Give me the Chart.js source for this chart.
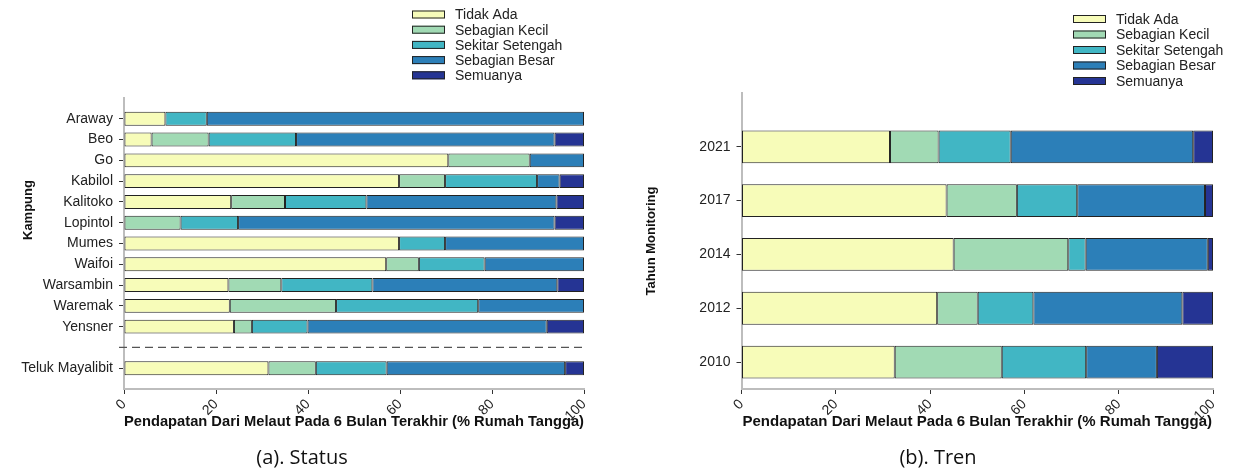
<!DOCTYPE html>
<html>
<head>
<meta charset="utf-8">
<script src="https://cdn.jsdelivr.net/npm/chart.js@4.4.1/dist/chart.umd.min.js"></script>
<style>
  body { margin: 0; background: #fff; width: 1246px; height: 471px; position: relative; overflow: hidden; }
  #chartA { position: absolute; left: 0; top: 0; }
  #chartB { position: absolute; left: 620px; top: 0; }
  .cap { position: absolute; top: 443px; font-family: "Open Sans", sans-serif; font-size: 20px; color: #111; transform: translateX(-50%); white-space: nowrap; }
</style>
</head>
<body>
<canvas id="chartA" width="620" height="471"></canvas>
<canvas id="chartB" width="626" height="471"></canvas>
<div class="cap" style="left:302px">(a). Status</div>
<div class="cap" style="left:938px">(b). Tren</div>
<script>
// categories of answer
const seriesNames = ['Tidak Ada', 'Sebagian Kecil', 'Sekitar Setengah', 'Sebagian Besar', 'Semuanya'];
const seriesColors = ['#f7fcb9', '#a1dab4', '#41b6c4', '#2c7fb8', '#253494'];

// (a) Status per kampung, '' is the gap before the whole bay
const kampung = ['Araway', 'Beo', 'Go', 'Kabilol', 'Kalitoko', 'Lopintol', 'Mumes', 'Waifoi',
                 'Warsambin', 'Waremak', 'Yensner', '', 'Teluk Mayalibit'];
const statusTidakAda  = [9, 6, 70.5, 59.8, 23.3, 0, 59.8, 57, 22.7, 23, 23.9, null, 31.4];
const statusKecil     = [0, 12.4, 17.7, 10, 11.7, 12.3, 0, 7.1, 11.5, 23.1, 3.9, null, 10.3];
const statusSetengah  = [9, 19, 0, 20, 17.7, 12.5, 10, 14.3, 19.8, 30.9, 12.1, null, 15.4];
const statusBesar     = [82, 56.2, 11.8, 4.9, 41.3, 68.8, 30.2, 21.6, 40.2, 23, 52, null, 38.8];
const statusSemua     = [0, 6.4, 0, 5.3, 6, 6.4, 0, 0, 5.8, 0, 8.1, null, 4.1];

// (b) Tren per tahun monitoring
const tahun = ['2021', '2017', '2014', '2012', '2010'];
const trenTidakAda = [31.5, 43.5, 45, 41.5, 32.5];
const trenKecil    = [10.3, 14.9, 24.3, 8.6, 22.7];
const trenSetengah = [15.3, 12.8, 3.7, 11.8, 17.9];
const trenBesar    = [38.7, 27.1, 25.9, 31.6, 15];
const trenSemua    = [4.2, 1.7, 1.1, 6.5, 11.9];

const xTicks = [0, 20, 40, 60, 80, 100];
const xTitle = 'Pendapatan Dari Melaut Pada 6 Bulan Terakhir (% Rumah Tangga)';

const FONT = '"Liberation Sans", Arial, sans-serif';

function toPoints(values) {
  return values.map((v, i) => ({ x: v, y: i })).filter(p => p.x !== null);
}

function makeDatasets(seriesValues, pct) {
  return seriesValues.map((vals, k) => ({
    label: seriesNames[k],
    data: toPoints(vals),
    backgroundColor: seriesColors[k],
    borderColor: '#222',
    borderWidth: 1,
    borderSkipped: false,
    barPercentage: 1,
    categoryPercentage: pct
  }));
}

// legend drawn as a vertical list, plus y title and optional dashed separator
const extras = {
  id: 'extras',
  afterDraw(chart, args, opts) {
    const ctx = chart.ctx;
    const area = chart.chartArea;
    ctx.save();
    // dashed separator
    if (opts.gapIndex !== undefined && opts.gapIndex >= 0) {
      const y = chart.scales.y.getPixelForValue(opts.gapIndex);
      ctx.strokeStyle = '#555';
      ctx.lineWidth = 1.2;
      ctx.setLineDash([8, 5]);
      ctx.beginPath();
      ctx.moveTo(area.left - 5, y);
      ctx.lineTo(area.right, y);
      ctx.stroke();
      ctx.setLineDash([]);
    }
    // legend
    ctx.font = '14px ' + FONT;
    ctx.textBaseline = 'middle';
    ctx.textAlign = 'left';
    chart.data.datasets.forEach((ds, i) => {
      const y = opts.legendY + i * opts.legendStep;
      ctx.fillStyle = ds.backgroundColor;
      ctx.fillRect(opts.legendX, y - 4, 33, 8);
      ctx.strokeStyle = '#222';
      ctx.lineWidth = 1;
      ctx.strokeRect(opts.legendX + 0.5, y - 3.5, 32, 7);
      ctx.fillStyle = '#222';
      ctx.fillText(ds.label, opts.legendX + 43, y + 1);
    });
    // y title
    ctx.translate(opts.yTitleX, area.top + opts.yTitlePos * (area.bottom - area.top));
    ctx.rotate(-Math.PI / 2);
    ctx.font = 'bold 13px ' + FONT;
    ctx.textAlign = 'center';
    ctx.fillStyle = '#111';
    ctx.fillText(opts.yTitle, 0, 0);
    ctx.restore();
  }
};

function makeChart(id, labels, seriesValues, cfg) {
  return new Chart(document.getElementById(id), {
    type: 'bar',
    data: { datasets: makeDatasets(seriesValues, cfg.pct) },
    options: {
      indexAxis: 'y',
      responsive: false,
      animation: false,
      layout: { padding: { left: 0, right: cfg.padRight, top: cfg.padTop, bottom: 36 } },
      plugins: {
        legend: { display: false },
        tooltip: { enabled: false },
        extras: cfg.extras
      },
      scales: {
        x: {
          type: 'linear',
          min: 0,
          max: 100,
          stacked: true,
          afterBuildTicks: s => { s.ticks = xTicks.map(v => ({ value: v })); },
          afterFit: s => { s.height = 46; },
          ticks: { minRotation: 45, maxRotation: 45, color: '#222', font: { size: 14, family: FONT }, padding: 2 },
          grid: { drawOnChartArea: false, drawTicks: true, tickLength: 5, tickColor: '#333' },
          border: { color: '#bdbdbd', width: 2 },
          title: { display: true, text: xTitle, color: '#111', font: { size: 15, weight: 'bold', family: FONT } }
        },
        y: {
          type: 'linear',
          reverse: true,
          offset: false,
          min: -1,
          max: cfg.yMax,
          stacked: true,
          afterBuildTicks: s => {
            s.ticks = labels.map((l, i) => ({ value: i })).filter(t => labels[t.value]);
          },
          afterFit: s => { s.width = cfg.yWidth; },
          ticks: {
            autoSkip: false,
            color: '#222',
            padding: 6,
            font: { size: 14, family: FONT },
            callback: v => labels[v]
          },
          grid: { offset: false, drawOnChartArea: false, drawTicks: true, tickLength: 5, tickColor: '#333' },
          border: { color: '#bdbdbd', width: 2 }
        }
      }
    },
    plugins: [extras]
  });
}

makeChart('chartA', kampung,
  [statusTidakAda, statusKecil, statusSetengah, statusBesar, statusSemua],
  {
    pct: 0.67, padRight: 36, padTop: 98, yWidth: 124, yMax: kampung.length,
    extras: { gapIndex: kampung.indexOf(''), legendX: 412, legendY: 14.5, legendStep: 15.2,
              yTitle: 'Kampung', yTitleX: 28, yTitlePos: 0.385 }
  });

makeChart('chartB', tahun,
  [trenTidakAda, trenKecil, trenSetengah, trenBesar, trenSemua],
  {
    pct: 0.61, padRight: 33, padTop: 93, yWidth: 121.5, yMax: tahun.length - 0.5,
    extras: { legendX: 453, legendY: 19, legendStep: 15.5,
              yTitle: 'Tahun Monitoring', yTitleX: 31, yTitlePos: 0.5 }
  });
</script>
</body>
</html>
